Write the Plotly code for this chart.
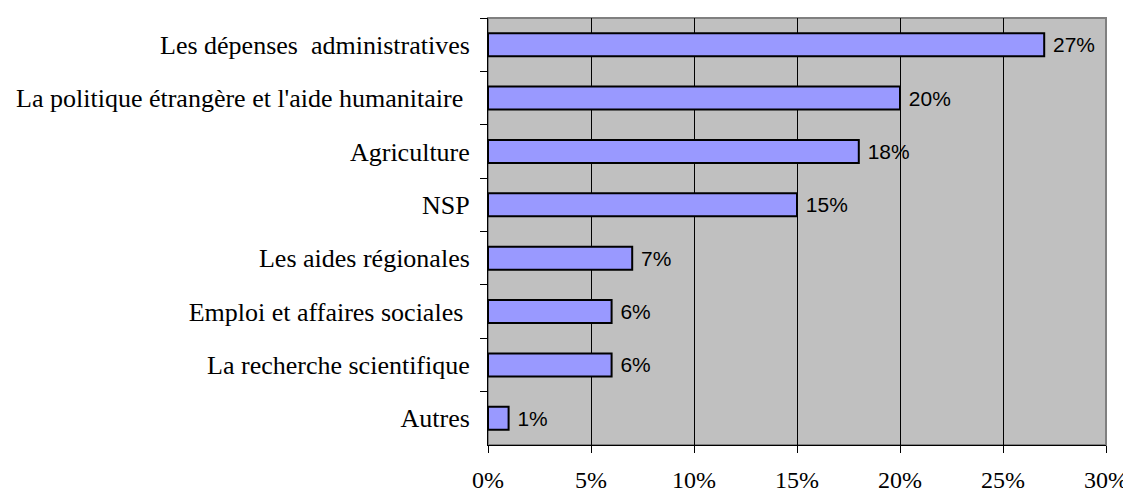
import plotly.graph_objects as go

categories = [
    "Les dépenses\u00a0 administratives",
    "La politique étrangère et l'aide humanitaire\u00a0",
    "Agriculture",
    "NSP",
    "Les aides régionales",
    "Emploi et affaires sociales\u00a0",
    "La recherche scientifique",
    "Autres",
]
values = [0.27, 0.20, 0.18, 0.15, 0.07, 0.06, 0.06, 0.01]
x_ticks = [0, 0.05, 0.10, 0.15, 0.20, 0.25, 0.30]

fig = go.Figure(go.Bar(
    x=values,
    y=categories,
    orientation="h",
    marker=dict(color="#9999FF", line=dict(color="black", width=2)),
    texttemplate="\u00a0%{x:.0%}",
    textposition="outside",
    textfont=dict(family="Liberation Sans, Arial", size=21, color="black"),
    cliponaxis=False,
))

fig.update_layout(
    width=1123, height=486,
    margin=dict(l=480, r=25, t=10, b=49),
    plot_bgcolor="#C0C0C0",
    paper_bgcolor="white",
    bargap=0.57,
    showlegend=False,
    font=dict(family="Liberation Serif, Times New Roman", size=26, color="black"),
    xaxis=dict(
        range=[0, 0.30], tickvals=x_ticks, tickformat=".0%",
        showgrid=True, gridcolor="black", gridwidth=1,
        showline=True, linecolor="black", linewidth=1,
        ticks="outside", ticklen=7, tickcolor="black",
        zeroline=False,
        tickfont=dict(size=24),
        ticklabelstandoff=6,
        automargin=False,
        ticklabeloverflow="allow",
    ),
    yaxis=dict(
        categoryorder="array", categoryarray=categories, autorange="reversed",
        showline=True, linecolor="black", linewidth=1,
        ticks="outside", ticklen=7, tickcolor="black", tickson="boundaries",
        showgrid=False,
        tickfont=dict(size=26),
        ticklabelstandoff=12,
        automargin=False,
        ticklabeloverflow="allow",
    ),
    shapes=[dict(type="rect", xref="paper", yref="paper", x0=0, x1=1, y0=0, y1=1,
                 line=dict(color="#808080", width=2), layer="below")],
)

fig.write_html("out.html")
